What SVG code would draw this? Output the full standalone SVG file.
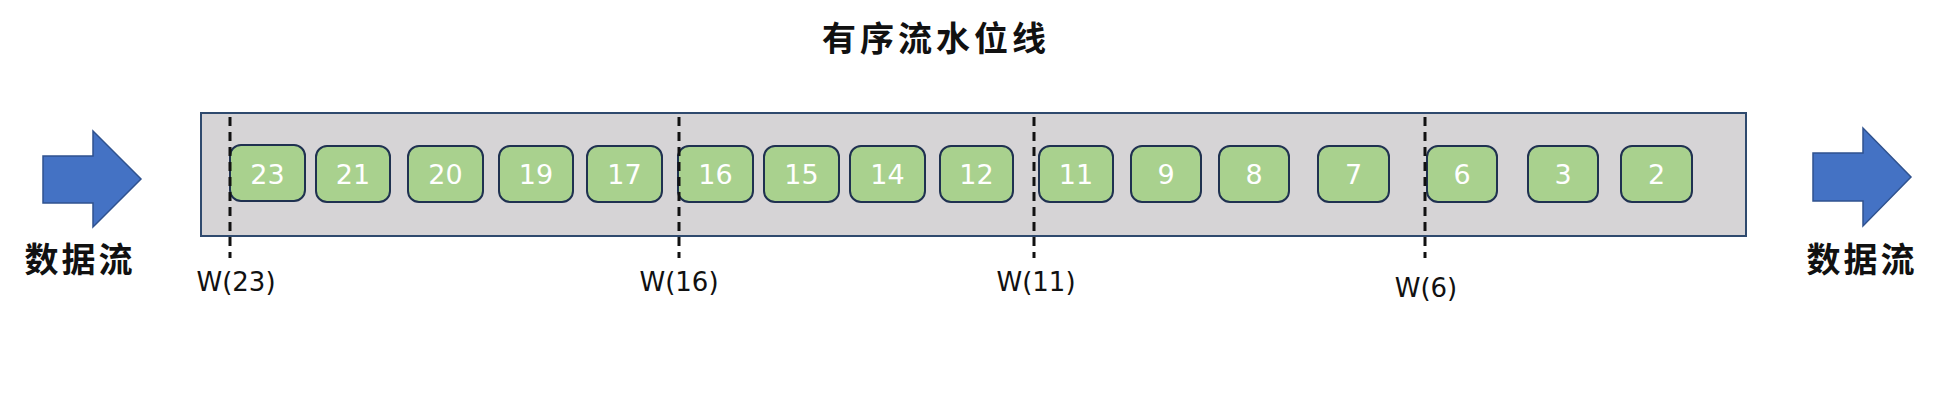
<svg xmlns="http://www.w3.org/2000/svg" width="1941" height="406" viewBox="0 0 1941 406">
<style>
.arrow{fill:#4472C4;stroke:#2F528F;stroke-width:1.5}
.cn{font-family:"Noto Sans CJK SC","Noto Sans",sans-serif;font-weight:bold;fill:#111;text-anchor:middle}
.box{fill:#A9D18E;stroke:#1F3150;stroke-width:2}
.num{font-family:"DejaVu Sans","Noto Sans",sans-serif;font-size:27px;fill:#fff;text-anchor:middle}
.wm{stroke:#111;stroke-width:3;stroke-dasharray:9 6;fill:none}
.wl{font-family:"DejaVu Sans","Noto Sans",sans-serif;font-size:26px;fill:#111;text-anchor:middle}
</style>
<rect width="1941" height="406" fill="#fff"/>
<text class="cn" x="936" y="51" font-size="34" letter-spacing="4">有序流水位线</text>
<g id="container"><rect x="201" y="113" width="1545" height="123" fill="#D6D4D6" stroke="#2F4A6E" stroke-width="2"/></g>
<g id="in-arrow"><polygon class="arrow" points="43,156 93,156 93,131 141,179 93,227 93,203 43,203"/><text class="cn" x="80" y="272" font-size="34" letter-spacing="3">数据流</text></g>
<g id="out-arrow"><polygon class="arrow" points="1813,153 1863,153 1863,128 1911,177 1863,226 1863,201 1813,201"/><text class="cn" x="1862" y="272" font-size="34" letter-spacing="3">数据流</text></g>
<g id="e23"><rect class="box" x="230" y="145" width="75" height="56" rx="11"/><text class="num" x="267.5" y="184">23</text></g>
<g id="e21"><rect class="box" x="316" y="146" width="74" height="56" rx="11"/><text class="num" x="353" y="184">21</text></g>
<g id="e20"><rect class="box" x="408" y="146" width="75" height="56" rx="11"/><text class="num" x="445.5" y="184">20</text></g>
<g id="e19"><rect class="box" x="499" y="146" width="74" height="56" rx="11"/><text class="num" x="536" y="184">19</text></g>
<g id="e17"><rect class="box" x="587" y="146" width="75" height="56" rx="11"/><text class="num" x="624.5" y="184">17</text></g>
<g id="e16"><rect class="box" x="678" y="146" width="75" height="56" rx="11"/><text class="num" x="715.5" y="184">16</text></g>
<g id="e15"><rect class="box" x="764" y="146" width="75" height="56" rx="11"/><text class="num" x="801.5" y="184">15</text></g>
<g id="e14"><rect class="box" x="850" y="146" width="75" height="56" rx="11"/><text class="num" x="887.5" y="184">14</text></g>
<g id="e12"><rect class="box" x="940" y="146" width="73" height="56" rx="11"/><text class="num" x="976.5" y="184">12</text></g>
<g id="e11"><rect class="box" x="1039" y="146" width="74" height="56" rx="11"/><text class="num" x="1076" y="184">11</text></g>
<g id="e9"><rect class="box" x="1131" y="146" width="70" height="56" rx="11"/><text class="num" x="1166" y="184">9</text></g>
<g id="e8"><rect class="box" x="1219" y="146" width="70" height="56" rx="11"/><text class="num" x="1254" y="184">8</text></g>
<g id="e7"><rect class="box" x="1318" y="146" width="71" height="56" rx="11"/><text class="num" x="1353.5" y="184">7</text></g>
<g id="e6"><rect class="box" x="1427" y="146" width="70" height="56" rx="11"/><text class="num" x="1462" y="184">6</text></g>
<g id="e3"><rect class="box" x="1528" y="146" width="70" height="56" rx="11"/><text class="num" x="1563" y="184">3</text></g>
<g id="e2"><rect class="box" x="1621" y="146" width="71" height="56" rx="11"/><text class="num" x="1656.5" y="184">2</text></g>
<g id="watermarks">
<line class="wm" x1="230" y1="117" x2="230" y2="258"/>
<line class="wm" x1="679" y1="117" x2="679" y2="258"/>
<line class="wm" x1="1034" y1="117" x2="1034" y2="258"/>
<line class="wm" x1="1425" y1="117" x2="1425" y2="258"/>
</g>
<g id="w23"><text class="wl" x="236" y="291">W(23)</text></g>
<g id="w16"><text class="wl" x="679" y="291">W(16)</text></g>
<g id="w11"><text class="wl" x="1036" y="291">W(11)</text></g>
<g id="w6"><text class="wl" x="1426" y="297">W(6)</text></g>
</svg>
